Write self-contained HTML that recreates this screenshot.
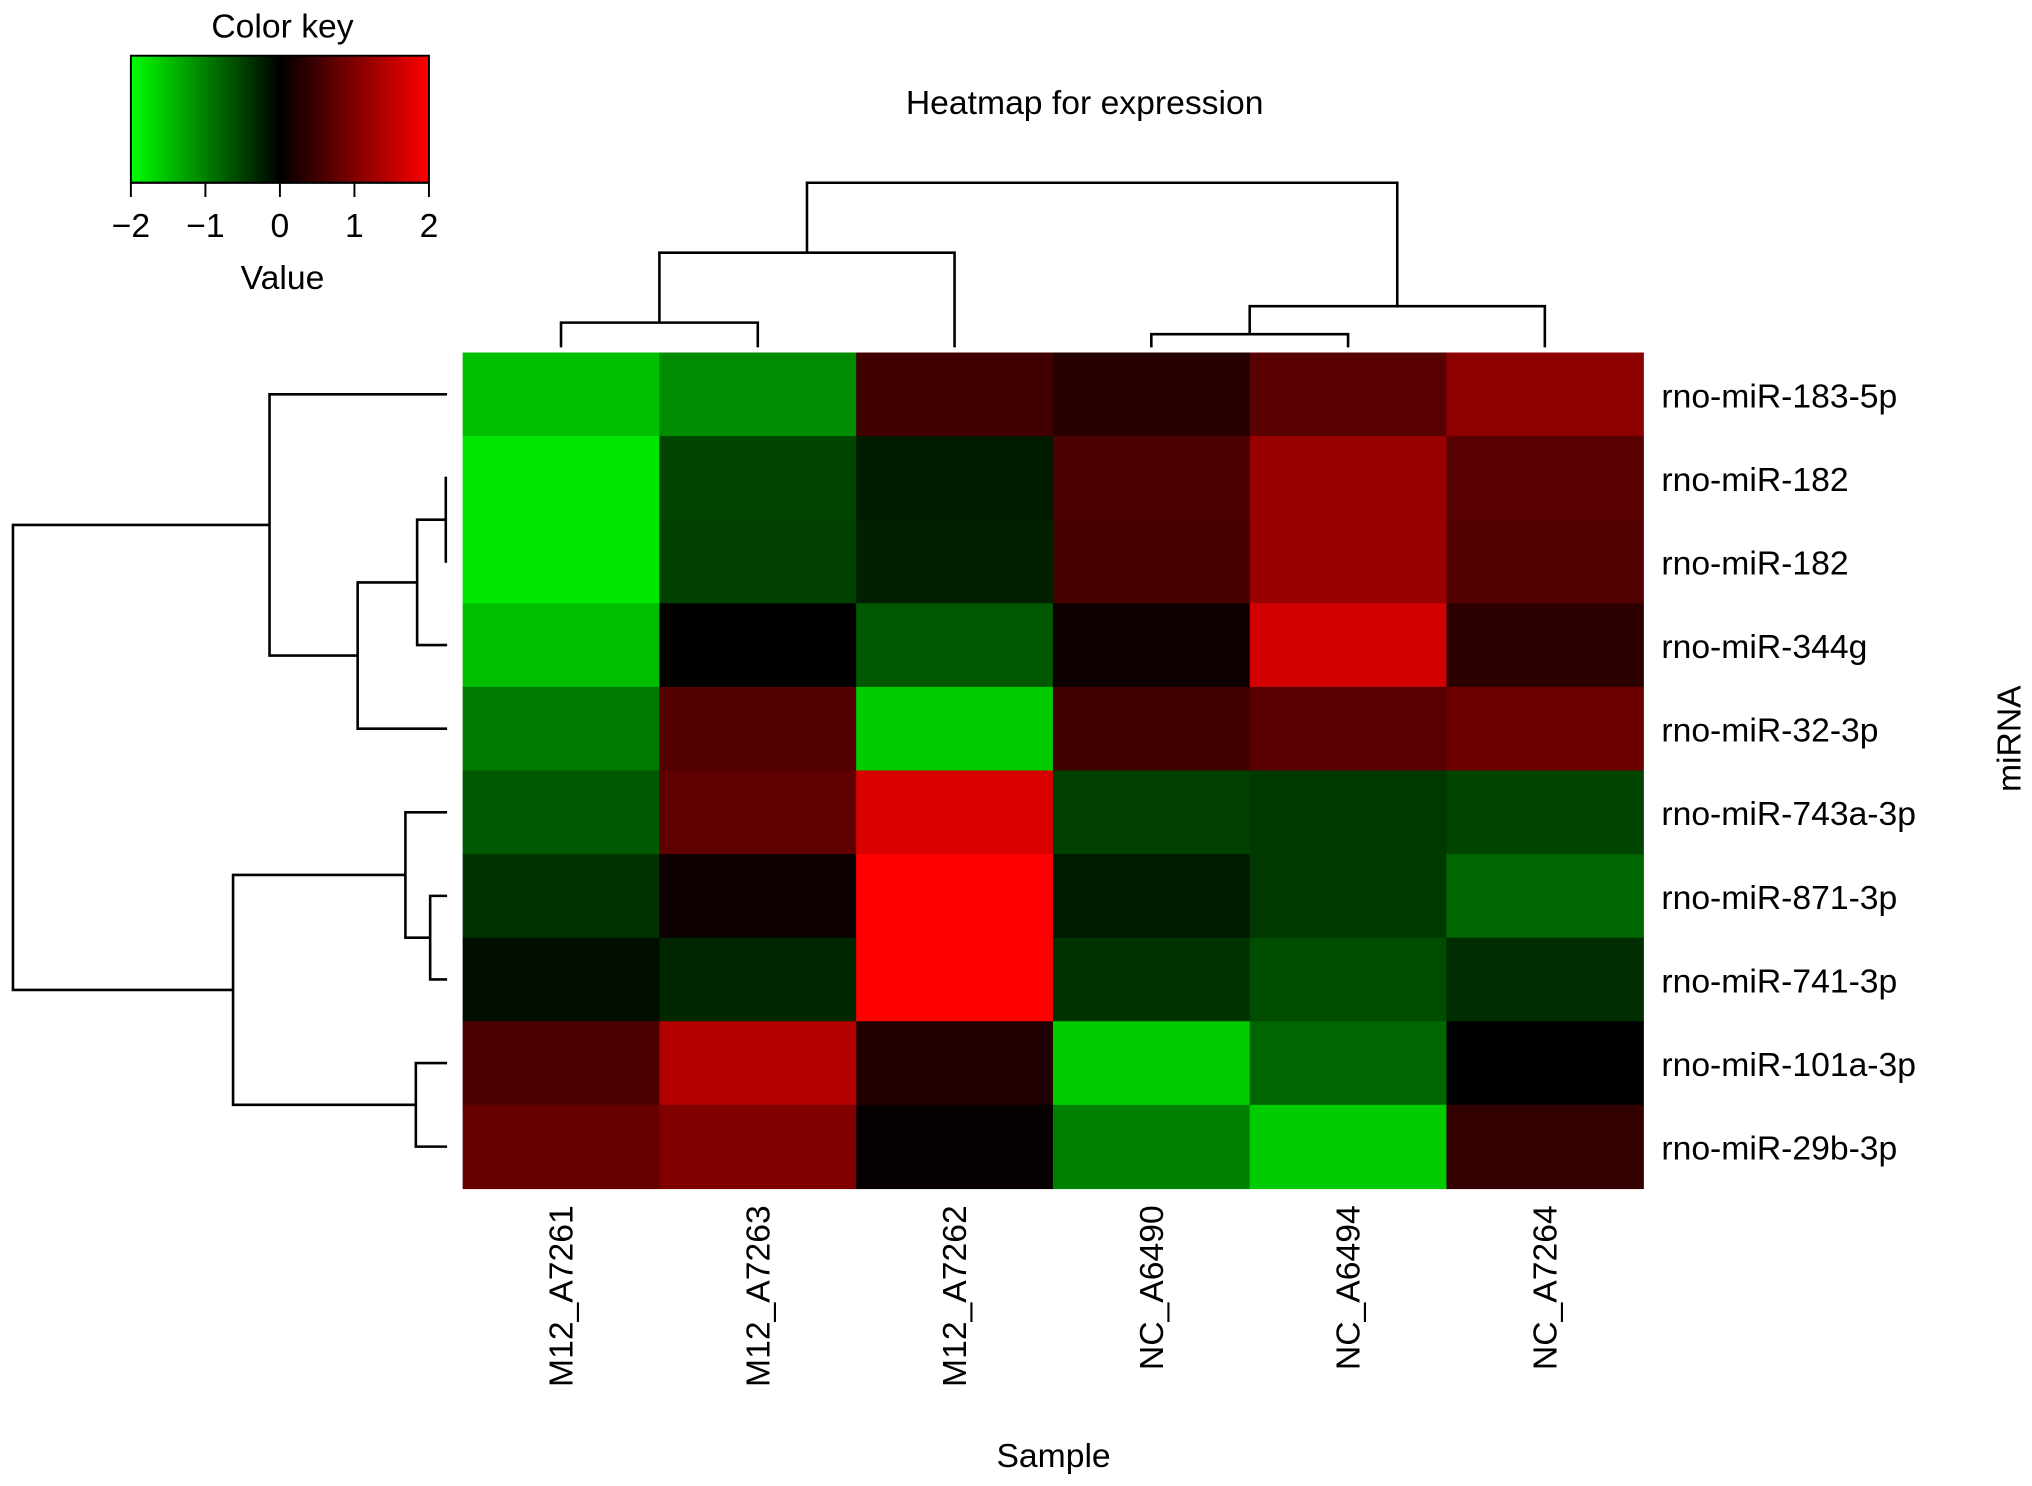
<!DOCTYPE html>
<html><head><meta charset="utf-8"><style>
html,body{margin:0;padding:0;background:#fff;}
svg{display:block;font-family:"Liberation Sans",Arial,sans-serif;}
</style></head><body>
<svg id="chart" width="2032" height="1486" viewBox="0 0 1568 1146.6" preserveAspectRatio="none" xmlns="http://www.w3.org/2000/svg">
<defs><linearGradient id="kg" x1="0" x2="1" y1="0" y2="0">
<stop offset="0" stop-color="#00ff00"/><stop offset="0.5" stop-color="#000"/><stop offset="1" stop-color="#ff0000"/></linearGradient></defs>
<g id="key">
<text x="218" y="29" font-size="26" text-anchor="middle">Color key</text>
<rect x="101" y="43" width="230" height="98" fill="url(#kg)" stroke="#000" stroke-width="1.5"/>
<text x="218" y="223" font-size="26" text-anchor="middle">Value</text>
</g>
<text x="837" y="88" font-size="26" text-anchor="middle">Heatmap for expression</text>
<g id="cells"></g>
<g id="dend" fill="none" stroke="#000" stroke-width="2"></g>
<g id="labels" font-size="26"></g>
<text x="813" y="1132" font-size="26" text-anchor="middle">Sample</text>
<text transform="translate(1559,570) rotate(-90)" font-size="26" text-anchor="middle">miRNA</text>
</svg>
<script>
const samples=["M12_A7261","M12_A7263","M12_A7262","NC_A6490","NC_A6494","NC_A7264"];
const genes=["rno-miR-183-5p","rno-miR-182","rno-miR-182","rno-miR-344g","rno-miR-32-3p","rno-miR-743a-3p","rno-miR-871-3p","rno-miR-741-3p","rno-miR-101a-3p","rno-miR-29b-3p"];
const values=[
[-1.5,-1.1,0.5,0.3,0.7,1.1],
[-1.8,-0.55,-0.2,0.6,1.2,0.7],
[-1.8,-0.5,-0.25,0.55,1.2,0.65],
[-1.5,0,-0.7,0.1,1.65,0.35],
[-0.95,0.65,-1.6,0.5,0.7,0.85],
[-0.7,0.75,1.7,-0.5,-0.45,-0.55],
[-0.4,0.1,2,-0.2,-0.45,-0.8],
[-0.1,-0.3,2,-0.4,-0.6,-0.35],
[0.6,1.4,0.25,-1.6,-0.8,0],
[0.8,1.0,0.05,-1.0,-1.6,0.4]];
const keyTicks=[-2,-1,0,1,2];
const colMerges=[[0,1,0.15],[3,4,0.08],[6,2,0.575],[7,5,0.25],[8,9,1.0]];
const rowMerges=[[1,2,0.003],[10,3,0.069],[11,4,0.206],[0,12,0.409],[6,7,0.039],[5,14,0.096],[8,9,0.072],[15,16,0.493],[13,17,1.0]];
const NS="http://www.w3.org/2000/svg";
const X0=357,X1=1268,Y0=272,Y1=917;
const cw=(X1-X0)/samples.length, rh=(Y1-Y0)/genes.length;
const xs=i=>X0+i*cw, ys=j=>Y0+j*rh;
const kx=v=>101+(v+2)/4*230;
function col(v){const t=Math.min(1,Math.abs(v)/2);const c=Math.round(t*255);return v<0?`rgb(0,${c},0)`:`rgb(${c},0,0)`;}
function mk(tag,attrs,parent){const e=document.createElementNS(NS,tag);for(const k in attrs)e.setAttribute(k,attrs[k]);parent.appendChild(e);return e;}
const key=document.getElementById('key');
keyTicks.forEach(t=>{
 const l=mk('line',{x1:kx(t),x2:kx(t),y1:141,y2:152,stroke:'#000','stroke-width':1.5},key);
 
 
 const tx=mk('text',{x:kx(t),y:183,'font-size':26,'text-anchor':'middle'},key);
 tx.textContent=t<0?'\u2212'+Math.abs(t):String(t);
 
 
});
mk('line',{x1:101,x2:331,y1:141,y2:141,stroke:'#000','stroke-width':1.5},key);
const cells=document.getElementById('cells');
values.forEach((row,j)=>row.forEach((v,i)=>{
 const r=mk('rect',{x:xs(i),y:ys(j),width:cw+0.5,height:rh+0.5,fill:col(v)},cells);
 
 
}));
const labels=document.getElementById('labels');
genes.forEach((g,j)=>{
 const t=mk('text',{x:1282,y:ys(j)+rh/2+10},labels);t.textContent=g;
 
 
});
samples.forEach((s,i)=>{
 const cx=xs(i)+cw/2+9;
 const t=mk('text',{transform:`translate(${cx},930) rotate(-90)`,'text-anchor':'end'},labels);t.textContent=s;
 
 
});
const dend=document.getElementById('dend');
function drawDend(merges,n,leafPos,hToCoord,vertical,name){
 const pos=[],h=[];
 for(let i=0;i<n;i++){pos.push(leafPos(i));h.push(0);}
 merges.forEach(([a,b,ht])=>{
  const pa=pos[a],pb=pos[b],ca=hToCoord(h[a]),cb=hToCoord(h[b]),cm=hToCoord(ht);
  const d=vertical?`M${pa},${ca}V${cm}H${pb}V${cb}`:`M${ca},${pa}H${cm}V${pb}H${cb}`;
  const p=mk('path',{d},dend);
  
  
  pos.push((pa+pb)/2);h.push(ht);
 });
}
drawDend(colMerges,samples.length,i=>xs(i)+cw/2,h=>268-h*127,true,'column-dendrogram-branch');
drawDend(rowMerges,genes.length,j=>ys(j)+rh/2,h=>345-h*335,false,'row-dendrogram-branch');
</script>
</body></html>
